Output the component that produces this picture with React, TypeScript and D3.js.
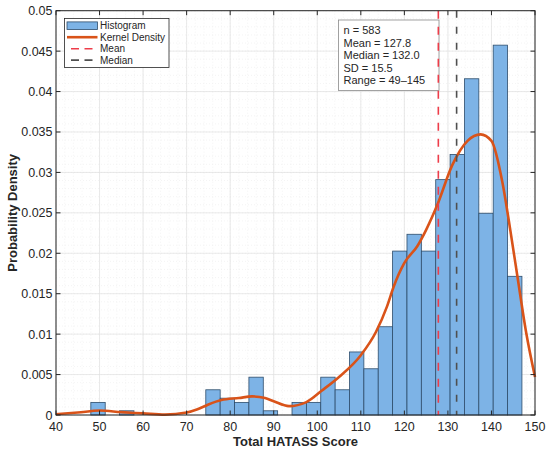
import React, { useRef, useEffect } from 'react';
import * as d3 from 'd3';

// histogram: counts per bin, 30 bins of width 3.3 starting at 48
const binStart = 48;
const binWidth = 3.3;
const binCounts = [3, 0, 1, 0, 0, 0, 0, 0, 6, 4, 3, 9, 1, 0, 3, 3, 9, 6, 15, 11, 21, 39, 43, 39, 56, 62, 80, 48, 88, 33];
const nTotal = 583;

// kernel density curve
const kdeX = [40, 45, 50, 55, 60, 65, 70, 72.5, 75, 78, 82, 85, 88, 90, 93.5, 97.5, 101, 105, 110, 113.5, 116, 117.5, 120, 123, 125, 127.5, 131, 134.5, 137.5, 140, 142.5, 144, 146, 148, 150];
const kdeY = [0.0001, 0.0003, 0.00055, 0.00035, 0.0002, 0.00005, 0.0003, 0.0007, 0.0013, 0.00185, 0.0021, 0.0023, 0.0021, 0.0017, 0.0011, 0.0016, 0.003, 0.0047, 0.0074, 0.0103, 0.0134, 0.0158, 0.0188, 0.0209, 0.0229, 0.0259, 0.0309, 0.0339, 0.0347, 0.0339, 0.0288, 0.024, 0.017, 0.0101, 0.0047];

const meanValue = 127.8;
const medianValue = 132.0;

const xTicks = [40, 50, 60, 70, 80, 90, 100, 110, 120, 130, 140, 150];
const yTicks = [0, 0.005, 0.01, 0.015, 0.02, 0.025, 0.03, 0.035, 0.04, 0.045, 0.05];
const yTickLabels = ['0', '0.005', '0.01', '0.015', '0.02', '0.025', '0.03', '0.035', '0.04', '0.045', '0.05'];

const statsLines = ['n = 583', 'Mean = 127.8', 'Median = 132.0', 'SD = 15.5', 'Range = 49\u2013145'];
const legendLabels = ['Histogram', 'Kernel Density', 'Mean', 'Median'];

const colBar = '#7db3e6';
const colBarEdge = '#2e4d6b';
const colKde = '#d95319';
const colMean = '#ee3d4a';
const colMedian = '#4f4f4f';
const colAxis = '#262626';
const font = '"Liberation Sans", Arial, Helvetica, sans-serif';

const App: React.FC = () => {
  const svgRef = useRef<SVGSVGElement | null>(null);

  useEffect(() => {
    document.body.style.margin = '0';
    if (!svgRef.current) return;

    const width = 550;
    const height = 453;
    const left = 56;
    const right = 535;
    const top = 10.7;
    const bottom = 415;

    const svg = d3.select<SVGSVGElement, unknown>(svgRef.current)
      .attr('width', width)
      .attr('height', height)
      .style('background', '#fff')
      .style('display', 'block');
    svg.selectAll('*').remove();

    const x = d3.scaleLinear().domain([40, 150]).range([left, right]);
    const y = d3.scaleLinear().domain([0, 0.05]).range([bottom, top]);

    // minor grid
    const grid = svg.append('g');
    grid.selectAll('line.mx')
      .data(d3.range(40, 150.01, 2))
      .enter().append('line')
      .attr('x1', (d) => x(d)).attr('x2', (d) => x(d))
      .attr('y1', top).attr('y2', bottom)
      .attr('stroke', '#ededed').attr('stroke-width', 0.6).attr('stroke-dasharray', '1,2');
    grid.selectAll('line.my')
      .data(d3.range(0, 0.05001, 0.001))
      .enter().append('line')
      .attr('x1', left).attr('x2', right)
      .attr('y1', (d) => y(d)).attr('y2', (d) => y(d))
      .attr('stroke', '#ededed').attr('stroke-width', 0.6).attr('stroke-dasharray', '1,2');
    // major grid
    grid.selectAll('line.gx')
      .data(xTicks)
      .enter().append('line')
      .attr('x1', (d) => x(d)).attr('x2', (d) => x(d))
      .attr('y1', top).attr('y2', bottom)
      .attr('stroke', '#e0e0e0').attr('stroke-width', 0.7);
    grid.selectAll('line.gy')
      .data(yTicks)
      .enter().append('line')
      .attr('x1', left).attr('x2', right)
      .attr('y1', (d) => y(d)).attr('y2', (d) => y(d))
      .attr('stroke', '#e0e0e0').attr('stroke-width', 0.7);

    // histogram bars (probability density)
    const bins = binCounts.map((c, i) => ({
      x0: binStart + i * binWidth,
      x1: binStart + (i + 1) * binWidth,
      density: c / (nTotal * binWidth),
    })).filter((b) => b.density > 0);

    svg.append('g').selectAll('rect')
      .data(bins)
      .enter().append('rect')
      .attr('x', (d) => x(d.x0))
      .attr('y', (d) => y(d.density))
      .attr('width', (d) => x(d.x1) - x(d.x0))
      .attr('height', (d) => y(0) - y(d.density))
      .attr('fill', colBar)
      .attr('stroke', colBarEdge)
      .attr('stroke-width', 0.8);

    // kernel density
    const kdePts: [number, number][] = kdeX.map((v, i) => [v, kdeY[i]]);
    const line = d3.line<[number, number]>()
      .x((d) => x(d[0]))
      .y((d) => y(d[1]))
      .curve(d3.curveMonotoneX);
    svg.append('path')
      .attr('d', line(kdePts) || '')
      .attr('fill', 'none')
      .attr('stroke', colKde)
      .attr('stroke-width', 2.6);

    // stats box
    const stats = svg.append('g');
    stats.append('rect')
      .attr('x', 338.5).attr('y', 20)
      .attr('width', 100.5).attr('height', 70.5)
      .attr('fill', '#fff')
      .attr('stroke', '#8a8a8a')
      .attr('stroke-width', 0.8);
    stats.selectAll('text')
      .data(statsLines)
      .enter().append('text')
      .attr('x', 343.5)
      .attr('y', (d, i) => 34 + i * 12.6)
      .text((d) => d)
      .style('font-family', font)
      .style('font-size', '11px')
      .style('fill', colAxis);

    // mean / median lines
    svg.append('line')
      .attr('x1', x(meanValue)).attr('x2', x(meanValue))
      .attr('y1', top).attr('y2', bottom)
      .attr('stroke', colMean).attr('stroke-width', 1.6).attr('stroke-dasharray', '8,8');
    svg.append('line')
      .attr('x1', x(medianValue)).attr('x2', x(medianValue))
      .attr('y1', top).attr('y2', bottom)
      .attr('stroke', colMedian).attr('stroke-width', 1.6).attr('stroke-dasharray', '7,9');

    // axes box and ticks
    const axes = svg.append('g');
    axes.append('rect')
      .attr('x', left).attr('y', top)
      .attr('width', right - left).attr('height', bottom - top)
      .attr('fill', 'none').attr('stroke', colAxis).attr('stroke-width', 1);
    const tl = 4.5;
    xTicks.forEach((t) => {
      axes.append('line').attr('x1', x(t)).attr('x2', x(t)).attr('y1', bottom).attr('y2', bottom - tl)
        .attr('stroke', colAxis).attr('stroke-width', 1);
      axes.append('line').attr('x1', x(t)).attr('x2', x(t)).attr('y1', top).attr('y2', top + tl)
        .attr('stroke', colAxis).attr('stroke-width', 1);
    });
    yTicks.forEach((t) => {
      axes.append('line').attr('x1', left).attr('x2', left + tl).attr('y1', y(t)).attr('y2', y(t))
        .attr('stroke', colAxis).attr('stroke-width', 1);
      axes.append('line').attr('x1', right).attr('x2', right - tl).attr('y1', y(t)).attr('y2', y(t))
        .attr('stroke', colAxis).attr('stroke-width', 1);
    });

    axes.selectAll('text.xt')
      .data(xTicks)
      .enter().append('text')
      .attr('x', (d) => x(d))
      .attr('y', bottom + 16)
      .attr('text-anchor', 'middle')
      .text((d) => String(d))
      .style('font-family', font)
      .style('font-size', '12.5px')
      .style('fill', colAxis);
    axes.selectAll('text.yt')
      .data(yTicks)
      .enter().append('text')
      .attr('x', left - 3.5)
      .attr('y', (d) => y(d) + 4.5)
      .attr('text-anchor', 'end')
      .text((d, i) => yTickLabels[i])
      .style('font-family', font)
      .style('font-size', '12.5px')
      .style('fill', colAxis);

    // axis titles
    svg.append('text')
      .attr('x', (left + right) / 2)
      .attr('y', 446)
      .attr('text-anchor', 'middle')
      .text('Total HATASS Score')
      .style('font-family', font)
      .style('font-size', '13px')
      .style('font-weight', 'bold')
      .style('fill', colAxis);
    svg.append('text')
      .attr('transform', `translate(17, ${(top + bottom) / 2}) rotate(-90)`)
      .attr('text-anchor', 'middle')
      .text('Probability Density')
      .style('font-family', font)
      .style('font-size', '13px')
      .style('font-weight', 'bold')
      .style('fill', colAxis);

    // legend
    const leg = svg.append('g');
    leg.append('rect')
      .attr('x', 64.5).attr('y', 18.5)
      .attr('width', 104.5).attr('height', 49)
      .attr('fill', '#fff')
      .attr('stroke', colAxis)
      .attr('stroke-width', 0.8);
    const rowY = [25.7, 37.2, 48.7, 60.1];
    leg.append('rect')
      .attr('x', 67).attr('y', rowY[0] - 3.8)
      .attr('width', 30.5).attr('height', 7.6)
      .attr('fill', colBar).attr('stroke', colBarEdge).attr('stroke-width', 0.8);
    leg.append('line')
      .attr('x1', 67).attr('x2', 97.5).attr('y1', rowY[1]).attr('y2', rowY[1])
      .attr('stroke', colKde).attr('stroke-width', 2.6);
    leg.append('line')
      .attr('x1', 71).attr('x2', 93).attr('y1', rowY[2]).attr('y2', rowY[2])
      .attr('stroke', colMean).attr('stroke-width', 1.6).attr('stroke-dasharray', '8,5.5');
    leg.append('line')
      .attr('x1', 71).attr('x2', 93).attr('y1', rowY[3]).attr('y2', rowY[3])
      .attr('stroke', colMedian).attr('stroke-width', 1.6).attr('stroke-dasharray', '8,5.5');
    leg.selectAll('text')
      .data(legendLabels)
      .enter().append('text')
      .attr('x', 100)
      .attr('y', (d, i) => rowY[i] + 3.6)
      .text((d) => d)
      .style('font-family', font)
      .style('font-size', '10px')
      .style('fill', colAxis);
  }, []);

  return (
    <svg ref={svgRef}></svg>
  );
};

export default App;
